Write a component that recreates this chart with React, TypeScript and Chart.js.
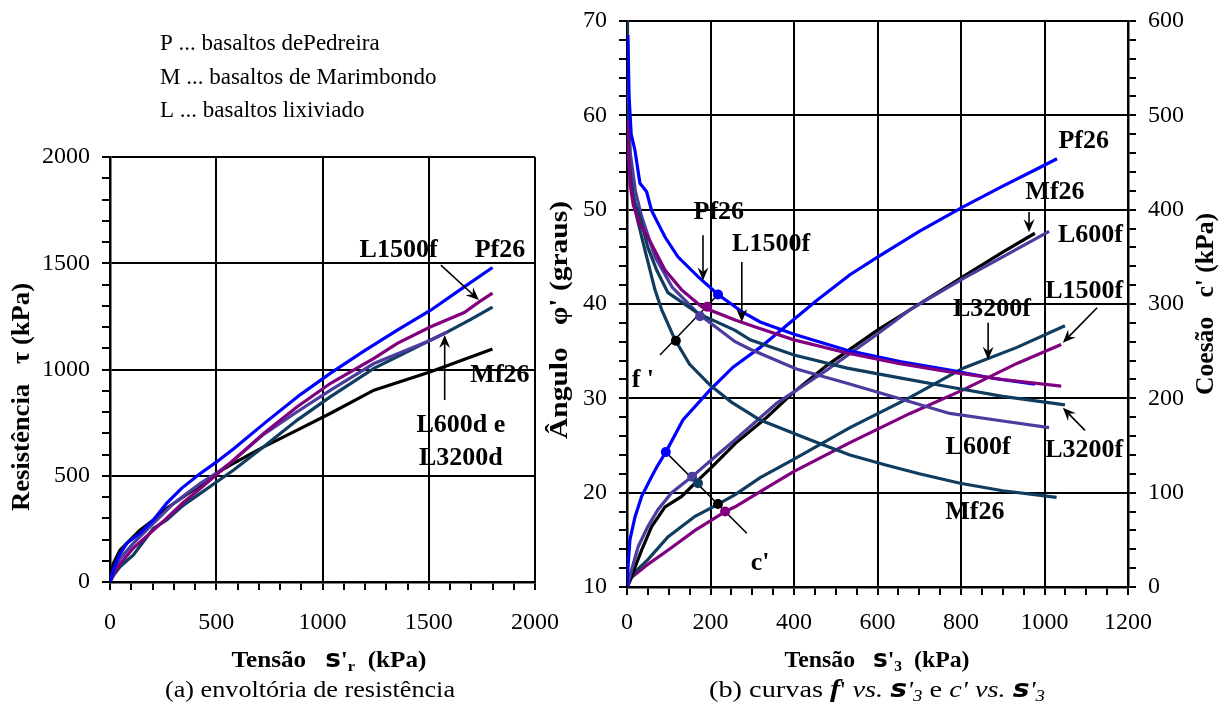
import React, { useEffect, useRef } from 'react';
import { Chart, registerables } from 'chart.js';

Chart.register(...registerables);

const SERIF = '"Liberation Serif", "Times New Roman", serif';
const SYMB = '"DejaVu Sans", sans-serif';

const BLUE = '#0000FF';
const PURPLE = '#800080';
const SLATE = '#4B3C9E';
const TEAL = '#0F3C5F';
const BLACK = '#000000';

// ---------------- (a) envoltória de resistência ----------------
const LEGEND_LINES = ['P ... basaltos dePedreira', 'M ... basaltos de Marimbondo', 'L ... basaltos lixiviado'];

const A_PF26_X = [0, 16, 40, 79, 142, 204, 267, 338, 425, 500, 582, 739, 896, 1038, 1200, 1352, 1509, 1667, 1800];
const A_PF26_Y = [0, 56, 120, 182, 229, 292, 371, 442, 511, 564, 627, 757, 882, 983, 1090, 1185, 1279, 1389, 1480];

const A_MF26_X = [0, 16, 47, 110, 142, 204, 267, 346, 425, 500, 566, 723, 881, 1038, 1242, 1509, 1800];
const A_MF26_Y = [0, 88, 150, 213, 245, 292, 347, 401, 456, 511, 550, 636, 715, 794, 903, 989, 1096];

const A_L1500F_X = [0, 16, 47, 110, 189, 267, 346, 425, 500, 566, 723, 881, 1038, 1242, 1352, 1509, 1667, 1737, 1800];
const A_L1500F_Y = [0, 40, 85, 160, 230, 300, 375, 440, 505, 560, 699, 825, 935, 1052, 1123, 1201, 1268, 1318, 1359];

const A_L600D_X = [0, 16, 47, 110, 204, 299, 425, 500, 566, 723, 881, 1038, 1242, 1509, 1588];
const A_L600D_Y = [0, 56, 110, 182, 276, 370, 464, 511, 560, 695, 801, 903, 1028, 1138, 1177];

const A_L3200D_X = [0, 16, 47, 110, 204, 267, 346, 425, 503, 582, 723, 881, 1038, 1242, 1509, 1588, 1698, 1800];
const A_L3200D_Y = [0, 30, 72, 127, 252, 292, 362, 417, 472, 527, 636, 762, 872, 1005, 1139, 1177, 1236, 1294];

const A_LABELS = [
  { t: 'L1500f', x: 1358, y: 1562 },
  { t: 'Pf26', x: 1835, y: 1562 },
  { t: 'Mf26', x: 1835, y: 974 },
  { t: 'L600d e', x: 1651, y: 739 },
  { t: 'L3200d', x: 1651, y: 583 },
];
const A_ARROWS = [
  { x1: 1557, y1: 1491, x2: 1736, y2: 1327 },
  { x1: 1575, y1: 856, x2: 1575, y2: 1162 },
];

// ---------------- (b) φ' vs σ'3 (left axis) ----------------
const B_PF26_PHI_X = [2, 5, 10, 19, 31, 40, 47, 59, 91, 122, 170, 218, 278, 319, 400, 527, 654, 773, 880, 977];
const B_PF26_PHI_Y = [68.5, 62, 58, 56.3, 52.8, 52.3, 51.9, 49.9, 47.1, 45.0, 42.9, 41.0, 39.1, 38.1, 36.8, 35.1, 33.9, 33.0, 32.1, 31.5];

const B_MF26_PHI_X = [1, 3, 8, 15, 23, 43, 67, 83, 115, 150, 199, 250, 319, 438, 534, 622, 700, 798, 900, 1029];
const B_MF26_PHI_Y = [70, 62, 55, 51.5, 49.3, 45.7, 41.5, 39.4, 36.2, 33.6, 31.4, 29.6, 27.7, 25.6, 24.0, 22.9, 22.0, 21.0, 20.2, 19.5];

const B_L600F_PHI_X = [1, 3, 7, 20, 35, 67, 108, 170, 259, 295, 406, 527, 650, 773, 900, 1011];
const B_L600F_PHI_Y = [68, 63, 56.3, 52, 49.3, 45.0, 41.8, 39.0, 36.0, 35.2, 33.1, 31.6, 30.0, 28.4, 27.6, 26.9];

const B_L1500F_PHI_X = [1, 3, 8, 15, 30, 50, 91, 131, 179, 259, 311, 400, 527, 650, 773, 900, 1040];
const B_L1500F_PHI_Y = [59.5, 56, 52.5, 50.5, 48.5, 47.1, 43.6, 41.5, 39.7, 38.3, 37.5, 36.2, 34.8, 33.7, 32.8, 32.0, 31.3];

const B_L3200F_PHI_X = [1, 4, 10, 20, 31, 50, 71, 98, 170, 259, 295, 400, 527, 650, 773, 900, 1049];
const B_L3200F_PHI_Y = [61, 56, 52.5, 50.5, 49.3, 46, 43.6, 41.2, 39.0, 37.2, 36.2, 34.6, 33.2, 32.2, 31.2, 30.2, 29.3];

// ---------------- (b) c' vs σ'3 (right axis) ----------------
const B_PF26_C_X = [0, 3, 7, 19, 35, 59, 71, 93, 134, 199, 254, 319, 398, 455, 534, 601, 700, 805, 900, 977, 1030];
const B_PF26_C_Y = [0, 25, 50, 74, 96, 117, 127, 143, 177, 209, 233, 254, 283, 304, 331, 350, 377, 403, 425, 442, 454];

const B_MF26_C_X = [0, 14, 35, 59, 91, 131, 163, 203, 259, 335, 398, 479, 599, 700, 805, 900, 977];
const B_MF26_C_Y = [0, 15, 39, 64, 85, 96, 110, 127, 152, 180, 206, 235, 272, 300, 329, 355, 375];

const B_L600F_C_X = [0, 11, 27, 50, 74, 107, 156, 211, 259, 359, 479, 599, 678, 805, 900, 1011];
const B_L600F_C_Y = [0, 18, 43, 64, 82, 100, 117, 138, 156, 195, 230, 268, 294, 327, 350, 377];

const B_L1500F_C_X = [0, 10, 19, 50, 98, 163, 235, 259, 319, 398, 534, 678, 805, 934, 1040];
const B_L1500F_C_Y = [0, 10, 13, 24, 39, 60, 80, 85, 101, 122, 153, 184, 209, 237, 257];

const B_L3200F_C_X = [0, 10, 19, 50, 98, 163, 211, 259, 319, 398, 534, 678, 805, 934, 1049];
const B_L3200F_C_Y = [0, 9, 16, 29, 53, 75, 86, 98, 116, 135, 169, 201, 232, 254, 277];

// marker guides
const B_FMARK_LINE_X = [79, 218];
const B_FMARK_LINE_Y = [34.6, 41.0];
const B_FMARK_X = [117, 175, 192, 218];
const B_FMARK_Y = [36.1, 38.7, 39.7, 41.0];
const B_FMARK_COLORS = [BLACK, SLATE, PURPLE, BLUE];

const B_CMARK_LINE_X = [93, 287];
const B_CMARK_LINE_Y = [143, 57];
const B_CMARK_X = [93, 156, 170, 218, 235];
const B_CMARK_Y = [143, 117, 110, 88, 80];
const B_CMARK_COLORS = [BLUE, SLATE, TEAL, BLACK, PURPLE];

const B_LABELS = [
  { t: 'Pf26', x: 1094, y: 57.2 },
  { t: 'Mf26', x: 1025, y: 51.8 },
  { t: 'L600f', x: 1110, y: 47.3 },
  { t: 'L1500f', x: 1095, y: 41.3 },
  { t: 'L3200f', x: 874, y: 39.4 },
  { t: 'L3200f', x: 1095, y: 24.5 },
  { t: 'L600f', x: 841, y: 24.8 },
  { t: 'Mf26', x: 833, y: 17.95 },
  { t: 'Pf26', x: 220, y: 49.75 },
  { t: 'L1500f', x: 345, y: 46.3 },
  { t: "f '", x: 38, y: 31.9 },
  { t: "c'", x: 319, y: 12.5 },
];
const B_ARROWS = [
  { x1: 963, y1: 49.75, x2: 963, y2: 47.6 },
  { x1: 1126, y1: 39.6, x2: 1044, y2: 35.9 },
  { x1: 865, y1: 38.0, x2: 865, y2: 34.1 },
  { x1: 1097, y1: 26.6, x2: 1044, y2: 29.0 },
  { x1: 182, y1: 47.3, x2: 182, y2: 42.5 },
  { x1: 275, y1: 44.45, x2: 275, y2: 38.1 },
];

// ---------------- helpers ----------------
const pts = (xs: number[], ys: number[]) => xs.map((x, i) => ({ x, y: ys[i] }));

const lineDs = (label: string, xs: number[], ys: number[], color: string, yAxisID = 'y') => ({
  label,
  data: pts(xs, ys),
  showLine: true,
  borderColor: color,
  backgroundColor: color,
  borderWidth: 3.2,
  pointRadius: 0,
  tension: 0,
  fill: false,
  yAxisID,
});

type Seg = { t: string; f: string; dy?: number };

function drawRich(ctx: CanvasRenderingContext2D, segs: Seg[], cx: number, by: number, rot = 0, targetW = 0) {
  ctx.save();
  ctx.translate(cx, by);
  ctx.rotate(rot);
  ctx.textAlign = 'left';
  ctx.textBaseline = 'alphabetic';
  ctx.fillStyle = '#000';
  let w = 0;
  segs.forEach((s) => {
    ctx.font = s.f;
    w += ctx.measureText(s.t).width;
  });
  if (targetW > 0) ctx.scale(targetW / w, 1);
  let x = -w / 2;
  segs.forEach((s) => {
    ctx.font = s.f;
    ctx.fillText(s.t, x, s.dy || 0);
    x += ctx.measureText(s.t).width;
  });
  ctx.restore();
}

function drawArrow(ctx: CanvasRenderingContext2D, x1: number, y1: number, x2: number, y2: number) {
  const head = 13;
  const ang = Math.atan2(y2 - y1, x2 - x1);
  const c = Math.cos(ang);
  const s = Math.sin(ang);
  ctx.beginPath();
  ctx.moveTo(x1, y1);
  ctx.lineTo(x2 - c * head * 0.6, y2 - s * head * 0.6);
  ctx.stroke();
  ctx.beginPath();
  ctx.moveTo(x2, y2);
  ctx.lineTo(x2 - head * c + head * 0.42 * s, y2 - head * s - head * 0.42 * c);
  ctx.lineTo(x2 - head * 0.65 * c, y2 - head * 0.65 * s);
  ctx.lineTo(x2 - head * c - head * 0.42 * s, y2 - head * s + head * 0.42 * c);
  ctx.closePath();
  ctx.fill();
}

const tickFont = { family: SERIF, size: 24 };
const LABEL_FONT = `bold 26px ${SERIF}`;
const TITLE_FONT = `bold 23px ${SERIF}`;
const ROT_TITLE_FONT = `bold 25px ${SERIF}`;

function axis(min: number, max: number, step: number, major: number, opts: any) {
  const size = opts.size;
  const horizontal = opts.position === 'bottom';
  return {
    type: 'linear',
    min,
    max,
    position: opts.position,
    afterFit: (s: any) => {
      if (horizontal) s.height = size;
      else s.width = size;
      s.paddingLeft = 0;
      s.paddingRight = 0;
      s.paddingTop = 0;
      s.paddingBottom = 0;
    },
    ticks: {
      stepSize: step,
      autoSkip: false,
      maxRotation: 0,
      minRotation: 0,
      maxTicksLimit: 1000,
      color: '#000',
      font: tickFont,
      padding: opts.pad,
      callback: (v: any) => (Math.abs(v % major) < 1e-9 ? String(v) : ''),
    },
    grid: {
      drawOnChartArea: opts.drawGrid !== false,
      color: (c: any) => (c.tick && Math.abs(c.tick.value % major) < 1e-9 ? '#000' : 'rgba(0,0,0,0)'),
      lineWidth: 2,
      tickColor: '#000',
      tickLength: 8,
      tickWidth: 2,
    },
    border: { display: true, color: '#000', width: 2.5 },
  };
}

// ---------------- chart (a) ----------------
function leftConfig(): any {
  const annot = {
    id: 'annotA',
    afterDraw(chart: any) {
      const { ctx, scales } = chart;
      const sx = scales.x;
      const sy = scales.y;
      ctx.save();
      ctx.fillStyle = '#000';
      ctx.strokeStyle = '#000';
      ctx.font = `23px ${SERIF}`;
      ctx.textAlign = 'left';
      ctx.textBaseline = 'alphabetic';
      LEGEND_LINES.forEach((t, i) => ctx.fillText(t, 160, 50 + i * 33.5));

      ctx.font = LABEL_FONT;
      ctx.textAlign = 'center';
      ctx.textBaseline = 'middle';
      A_LABELS.forEach((l) => ctx.fillText(l.t, sx.getPixelForValue(l.x), sy.getPixelForValue(l.y)));
      ctx.lineWidth = 1.6;
      A_ARROWS.forEach((a) =>
        drawArrow(ctx, sx.getPixelForValue(a.x1), sy.getPixelForValue(a.y1), sx.getPixelForValue(a.x2), sy.getPixelForValue(a.y2))
      );
      ctx.restore();

      drawRich(
        ctx,
        [
          { t: 'Tensão   ', f: TITLE_FONT },
          { t: 's', f: `bold 24px ${SYMB}` },
          { t: "'", f: TITLE_FONT },
          { t: 'r', f: `bold 15px ${SERIF}`, dy: 4 },
          { t: '  (kPa)', f: TITLE_FONT },
        ],
        329,
        667,
        0,
        195
      );
      drawRich(ctx, [{ t: '(a) envoltória de resistência', f: `24px ${SERIF}` }], 310, 697, 0, 290);
      drawRich(
        ctx,
        [
          { t: 'Resistência   ', f: ROT_TITLE_FONT },
          { t: 'τ', f: `bold 25px ${SERIF}` },
          { t: ' (kPa)', f: ROT_TITLE_FONT },
        ],
        29,
        397,
        -Math.PI / 2,
        228
      );
    },
  };
  return {
    type: 'scatter',
    data: {
      datasets: [
        lineDs('Pf26', A_PF26_X, A_PF26_Y, BLUE),
        lineDs('L1500f', A_L1500F_X, A_L1500F_Y, PURPLE),
        lineDs('L600d', A_L600D_X, A_L600D_Y, SLATE),
        lineDs('L3200d', A_L3200D_X, A_L3200D_Y, TEAL),
        lineDs('Mf26', A_MF26_X, A_MF26_Y, BLACK),
      ],
    },
    options: {
      responsive: false,
      animation: false,
      events: [],
      layout: { autoPadding: false, padding: { top: 157, right: 25, left: 0, bottom: 0 } },
      plugins: { legend: { display: false }, tooltip: { enabled: false } },
      scales: {
        x: axis(0, 2000, 100, 500, { position: 'bottom', pad: 18, size: 131 }),
        y: axis(0, 2000, 100, 500, { position: 'left', pad: 12, size: 110 }),
      },
    },
    plugins: [annot],
  };
}

// ---------------- chart (b) ----------------
function rightConfig(): any {
  const annot = {
    id: 'annotB',
    afterDraw(chart: any) {
      const { ctx, scales } = chart;
      const sx = scales.x;
      const sy = scales.y;
      ctx.save();
      ctx.fillStyle = '#000';
      ctx.strokeStyle = '#000';
      ctx.font = LABEL_FONT;
      ctx.textAlign = 'center';
      ctx.textBaseline = 'middle';
      B_LABELS.forEach((l) => ctx.fillText(l.t, sx.getPixelForValue(l.x), sy.getPixelForValue(l.y)));
      ctx.lineWidth = 1.6;
      B_ARROWS.forEach((a) =>
        drawArrow(ctx, sx.getPixelForValue(a.x1), sy.getPixelForValue(a.y1), sx.getPixelForValue(a.x2), sy.getPixelForValue(a.y2))
      );
      ctx.restore();

      const off = 530;
      drawRich(
        ctx,
        [
          { t: 'Tensão   ', f: TITLE_FONT },
          { t: 's', f: `bold 24px ${SYMB}` },
          { t: "'", f: TITLE_FONT },
          { t: '3', f: `bold 15px ${SERIF}`, dy: 4 },
          { t: '  (kPa)', f: TITLE_FONT },
        ],
        877 - off,
        667,
        0,
        185
      );
      const cap = `24px ${SERIF}`;
      const capI = `italic 24px ${SERIF}`;
      const capBI = `italic bold 26px ${SERIF}`;
      const sBI = `italic bold 24px ${SYMB}`;
      drawRich(
        ctx,
        [
          { t: '(b) curvas ', f: cap },
          { t: 'f', f: capBI },
          { t: "' ", f: cap },
          { t: 'vs. ', f: capI },
          { t: 's', f: sBI },
          { t: "'", f: capI },
          { t: '3', f: `italic 16px ${SERIF}`, dy: 4 },
          { t: ' e ', f: cap },
          { t: "c' vs. ", f: capI },
          { t: 's', f: sBI },
          { t: "'", f: capI },
          { t: '3', f: `italic 16px ${SERIF}`, dy: 4 },
        ],
        877 - off,
        697,
        0,
        336
      );
      drawRich(
        ctx,
        [
          { t: 'Ângulo   ', f: ROT_TITLE_FONT },
          { t: 'φ', f: `bold 25px ${SERIF}` },
          { t: "' (graus)", f: ROT_TITLE_FONT },
        ],
        567 - off,
        320,
        -Math.PI / 2,
        238
      );
      drawRich(ctx, [{ t: "Coesão   c' (kPa)", f: ROT_TITLE_FONT }], 1213 - off, 304, -Math.PI / 2, 182);
    },
  };
  const markLine = (xs: number[], ys: number[], yAxisID: string) => ({
    data: pts(xs, ys),
    showLine: true,
    borderColor: '#000',
    borderWidth: 1.5,
    pointRadius: 0,
    yAxisID,
  });
  const markDots = (xs: number[], ys: number[], colors: string[], yAxisID: string) => ({
    data: pts(xs, ys),
    showLine: false,
    pointRadius: 5,
    pointBorderWidth: 0,
    pointBackgroundColor: colors,
    pointBorderColor: colors,
    yAxisID,
  });
  return {
    type: 'scatter',
    data: {
      datasets: [
        markDots(B_FMARK_X, B_FMARK_Y, B_FMARK_COLORS, 'y'),
        markDots(B_CMARK_X, B_CMARK_Y, B_CMARK_COLORS, 'y2'),
        markLine(B_FMARK_LINE_X, B_FMARK_LINE_Y, 'y'),
        markLine(B_CMARK_LINE_X, B_CMARK_LINE_Y, 'y2'),
        lineDs('L1500f φ', B_L1500F_PHI_X, B_L1500F_PHI_Y, PURPLE),
        lineDs('Pf26 φ', B_PF26_PHI_X, B_PF26_PHI_Y, BLUE),
        lineDs('L3200f φ', B_L3200F_PHI_X, B_L3200F_PHI_Y, TEAL),
        lineDs('L600f φ', B_L600F_PHI_X, B_L600F_PHI_Y, SLATE),
        lineDs('Mf26 φ', B_MF26_PHI_X, B_MF26_PHI_Y, TEAL),
        lineDs('Pf26 c', B_PF26_C_X, B_PF26_C_Y, BLUE, 'y2'),
        lineDs('L600f c', B_L600F_C_X, B_L600F_C_Y, SLATE, 'y2'),
        lineDs('Mf26 c', B_MF26_C_X, B_MF26_C_Y, BLACK, 'y2'),
        lineDs('L3200f c', B_L3200F_C_X, B_L3200F_C_Y, TEAL, 'y2'),
        lineDs('L1500f c', B_L1500F_C_X, B_L1500F_C_Y, PURPLE, 'y2'),
      ],
    },
    options: {
      responsive: false,
      animation: false,
      events: [],
      layout: { autoPadding: false, padding: { top: 21, right: 0, left: 0, bottom: 0 } },
      plugins: { legend: { display: false }, tooltip: { enabled: false } },
      scales: {
        x: axis(0, 1200, 50, 200, { position: 'bottom', pad: 13, size: 126 }),
        y: axis(10, 70, 2, 10, { position: 'left', pad: 12, size: 97 }),
        y2: axis(0, 600, 20, 100, { position: 'right', pad: 12, size: 100, drawGrid: false }),
      },
    },
    plugins: [annot],
  };
}

export default function App() {
  const leftRef = useRef<HTMLCanvasElement>(null);
  const rightRef = useRef<HTMLCanvasElement>(null);
  useEffect(() => {
    const cl = new Chart(leftRef.current as HTMLCanvasElement, leftConfig());
    const cr = new Chart(rightRef.current as HTMLCanvasElement, rightConfig());
    return () => {
      cl.destroy();
      cr.destroy();
    };
  }, []);
  return (
    <div style={{ position: 'absolute', left: 0, top: 0, width: 1228, height: 713, background: '#fff', overflow: 'hidden' }}>
      <canvas ref={leftRef} width={560} height={713} style={{ position: 'absolute', left: 0, top: 0, width: 560, height: 713 }} />
      <canvas ref={rightRef} width={698} height={713} style={{ position: 'absolute', left: 530, top: 0, width: 698, height: 713 }} />
    </div>
  );
}
